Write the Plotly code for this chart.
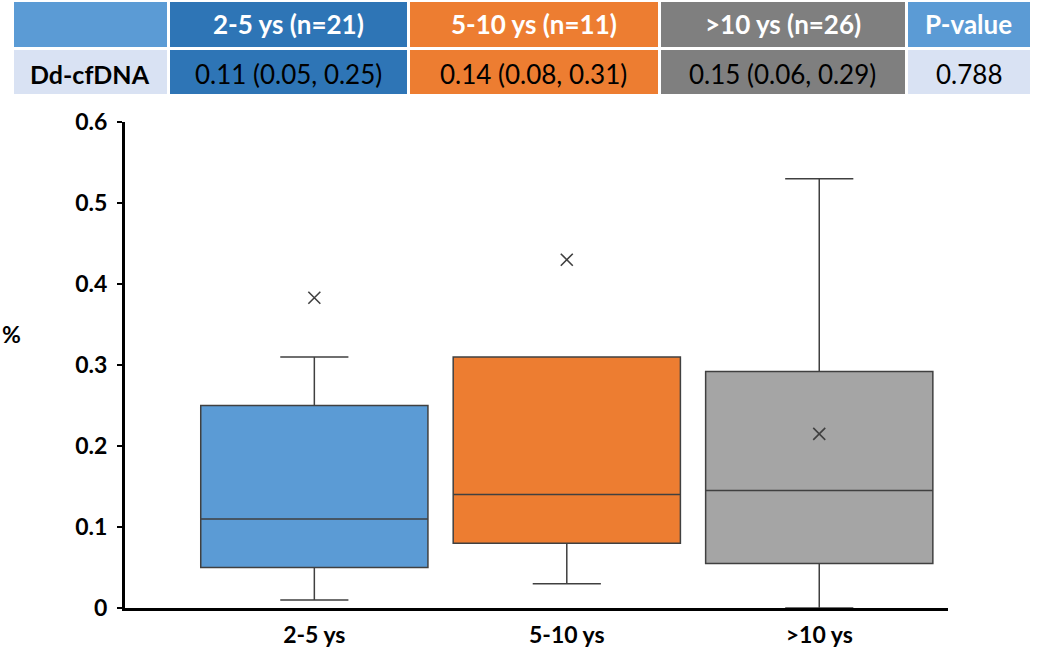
import plotly.graph_objects as go

# ---- data ----
groups = ["2-5 ys", "5-10 ys", ">10 ys"]
q1 = [0.05, 0.08, 0.055]
median = [0.11, 0.14, 0.145]
q3 = [0.25, 0.31, 0.292]
lower = [0.01, 0.03, 0.0]
upper = [0.31, 0.31, 0.53]
means = [0.383, 0.43, 0.215]
box_colors = ["#5B9BD5", "#ED7D31", "#A5A5A5"]

table_header = ["", "2-5 ys (n=21)", "5-10 ys (n=11)", ">10 ys (n=26)", "P-value"]
table_row = ["Dd-cfDNA", "0.11 (0.05, 0.25)", "0.14 (0.08, 0.31)", "0.15 (0.06, 0.29)", "0.788"]
header_fill = ["#5B9BD5", "#2E75B6", "#ED7D31", "#7F7F7F", "#5B9BD5"]
row_fill = ["#D9E2F3", "#2E75B6", "#ED7D31", "#7F7F7F", "#D9E2F3"]
col_widths = [156, 240, 251, 247, 125]
y_ticks = [0, 0.1, 0.2, 0.3, 0.4, 0.5, 0.6]

FONT = "Lato"
W, H = 1050, 648
T_X0, T_X1 = 12 / W, 1031 / W
HEAD_H, ROW_H = 48, 47
T_TOP = 1.0
T_BOT = 1 - (HEAD_H + ROW_H + 1) / H

fig = go.Figure()

for i, g in enumerate(groups):
    fig.add_trace(go.Box(
        x=[g], q1=[q1[i]], median=[median[i]], q3=[q3[i]],
        lowerfence=[lower[i]], upperfence=[upper[i]],
        fillcolor=box_colors[i],
        line=dict(color="#404040", width=1.5),
        width=0.9, whiskerwidth=0.3,
        boxpoints=False, showlegend=False, hoverinfo="skip",
    ))

fig.add_trace(go.Scatter(
    x=groups, y=means, mode="markers",
    marker=dict(symbol="x-thin-open", size=12, color="#404040",
                line=dict(color="#404040", width=1.6)),
    showlegend=False, hoverinfo="skip",
))

# table cells (fills) drawn by the library; text added as annotations for vertical centring
fig.add_trace(go.Table(
    domain=dict(x=[T_X0, T_X1], y=[T_BOT, T_TOP]),
    columnwidth=col_widths,
    header=dict(
        values=["" for _ in table_header],
        fill_color=header_fill,
        align="center", height=HEAD_H,
        line=dict(color="white", width=3),
    ),
    cells=dict(
        values=[[""] for _ in table_row],
        fill_color=[[c] for c in row_fill],
        align="center", height=ROW_H,
        line=dict(color="white", width=3),
    ),
))

annotations = []
total_w = sum(col_widths)
x_acc = T_X0
for i, cw in enumerate(col_widths):
    frac = cw / total_w * (T_X1 - T_X0)
    xc = x_acc + frac / 2
    x_acc += frac
    if table_header[i]:
        annotations.append(dict(
            text=f"<b>{table_header[i]}</b>", x=xc, y=1 - (HEAD_H / 2) / H,
            xref="paper", yref="paper", xanchor="center", yanchor="middle",
            showarrow=False, font=dict(family=FONT, size=26, color="white"),
        ))
    txt = f"<b>{table_row[i]}</b>" if i == 0 else table_row[i]
    annotations.append(dict(
        text=txt, x=xc, y=1 - (HEAD_H + 2 + ROW_H / 2) / H,
        xref="paper", yref="paper", xanchor="center", yanchor="middle",
        showarrow=False,
        font=dict(family=FONT, size=25 if i == 0 else 26, color="black"),
    ))

annotations.append(dict(
    text="<b>%</b>", x=0, y=1 - 334 / H, xref="paper", yref="paper",
    xanchor="left", yanchor="middle", showarrow=False,
    font=dict(family=FONT, size=23, color="black"),
))

fig.update_layout(
    width=W, height=H,
    margin=dict(l=0, r=0, t=0, b=0),
    paper_bgcolor="white", plot_bgcolor="white",
    font=dict(family=FONT, color="black"),
    boxmode="overlay",
    xaxis=dict(
        domain=[125 / W, 948 / W],
        type="category", range=[-0.75, 2.51],
        showline=True, linecolor="black", linewidth=3,
        ticks="", showgrid=False, zeroline=False,
        tickfont=dict(family=FONT, size=23, color="black", weight="bold"),
        ticklabelstandoff=4,
        automargin=False,
    ),
    yaxis=dict(
        domain=[1 - 608 / H, 1 - 122 / H],
        range=[0, 0.6], tickvals=y_ticks,
        ticktext=[f"{v:g}" for v in y_ticks],
        showline=True, linecolor="black", linewidth=3,
        ticks="outside", ticklen=5, tickwidth=2, tickcolor="black",
        showgrid=False, zeroline=False,
        tickfont=dict(family=FONT, size=23, color="black", weight="bold"),
        ticklabelstandoff=5,
        automargin=False,
    ),
    annotations=annotations,
)

fig.write_html("out.html", config={"displayModeBar": False},
               post_script="document.body.style.margin='0';")
